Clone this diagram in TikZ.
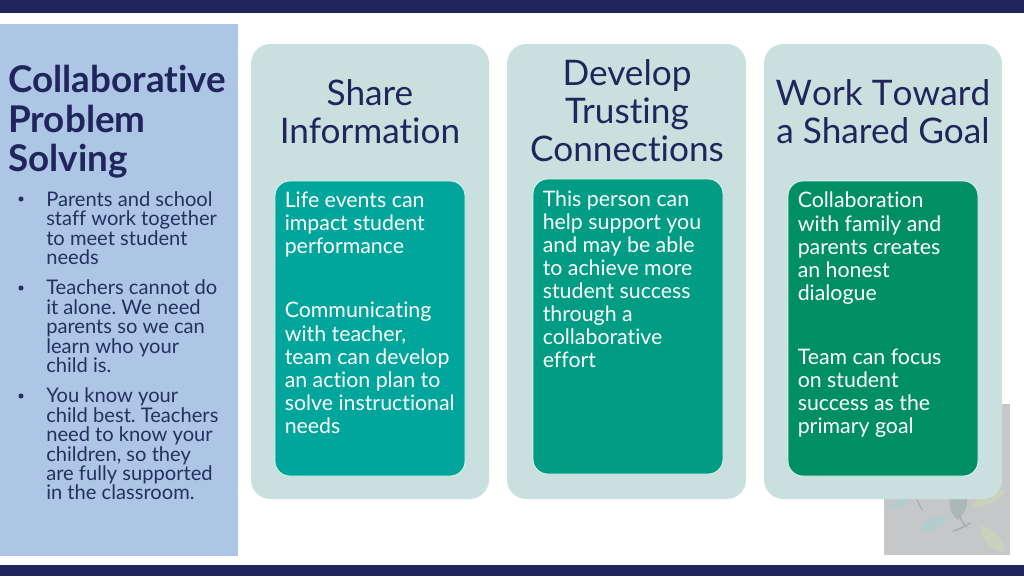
\documentclass[tikz,border=0pt]{standalone}
\usepackage{fontspec}
\setmainfont{Lato}[RawFeature={-liga;-clig;-dlig}]
\definecolor{navy}{HTML}{20265C}
\definecolor{sidebar}{HTML}{ADC6E5}
\definecolor{panelc}{HTML}{C9E0DF}
\definecolor{cardA}{HTML}{00A59B}
\definecolor{cardB}{HTML}{009C84}
\definecolor{cardC}{HTML}{008F63}
\definecolor{edgec}{HTML}{DDF3EF}
\definecolor{bodyt}{HTML}{24305E}
\definecolor{photo}{HTML}{C6C7C9}
\definecolor{leafblue}{HTML}{B2CDCB}
\definecolor{leafgreen}{HTML}{C8D2BC}
\definecolor{stemc}{HTML}{ACAEB0}
\tikzset{
  x=0.75pt,y=-0.75pt,
  panel/.style={fill=panelc,rounded corners=14.6pt,draw=none},
  card/.style={rounded corners=11.2pt,draw=edgec,line width=0.6pt},
  head/.style={anchor=center,align=center,text=navy,font=\fontsize{26.4}{28.6}\selectfont,inner sep=0pt},
  cardtext/.style={anchor=north west,align=left,text=white,font=\fontsize{16}{17.3}\selectfont,inner sep=0pt},
  sidehead/.style={anchor=north west,align=left,text=navy,font=\fontsize{27.6}{29.6}\bfseries\selectfont,inner sep=0pt},
  sidetext/.style={anchor=north west,align=left,text=bodyt,font=\fontsize{15.1}{14.6}\selectfont,inner sep=0pt},
  bulletdot/.style={circle,fill=bodyt,inner sep=0pt,minimum size=3.8pt},
}
\frenchspacing
\begin{document}
\begin{tikzpicture}
\useasboundingbox (0,0) rectangle (1024,576);
\fill[white] (0,0) rectangle (1024,576);
\fill[navy] (0,0) rectangle (1024,13);
\fill[navy] (0,564.5) rectangle (1024,576);
% picture behind third panel
\fill[photo] (884,404) rectangle (1010,555);
\fill[leafblue] (888,508) .. controls (895,500) and (905,498) .. (910,500) .. controls (906,507) and (896,509) .. (888,508) -- cycle;
\fill[leafblue] (920,530) .. controls (922,520) and (935,514) .. (947,517) .. controls (945,526) and (932,535) .. (920,530) -- cycle;
\fill[leafgreen] (980,526) .. controls (992,526) and (1005,540) .. (1005,552) .. controls (992,552) and (980,540) .. (980,526) -- cycle;
\fill[leafgreen] (972,507) .. controls (985,508) and (1003,500) .. (1005,490) .. controls (990,490) and (975,497) .. (972,507) -- cycle;
\fill[stemc!70!leafblue] (950,499) .. controls (948,508) and (953,517) .. (958,520) .. controls (965,512) and (968,505) .. (967,499) -- cycle;
\draw[stemc,line width=1pt,line cap=round] (917,500) -- (922,510);
\draw[stemc,line width=1.2pt,line cap=round] (953,531) .. controls (960,529) and (966,526) .. (970,523);
\draw[stemc,line width=1.2pt,line cap=round] (958,514) .. controls (962,520) and (964,526) .. (966,527);
% sidebar
\fill[sidebar] (0,24) rectangle (238,556);
\node[sidehead] (title) at (8,65) {Collaborative\\Problem\\Solving};
\node[bulletdot] (b1) at (21,199) {};
\node[sidetext] (t1) at (46,191) {Parents and school\\staff work together\\to meet student\\needs};
\node[bulletdot] (b2) at (21,288) {};
\node[sidetext] (t2) at (46,279.5) {Teachers cannot do\\it alone. We need\\parents so we can\\learn who your\\child is.};
\node[bulletdot] (b3) at (21,396) {};
\node[sidetext] (t3) at (46,387.5) {You know your\\child best. Teachers\\need to know your\\children, so they\\are fully supported\\in the classroom.};
% panels
\fill[panel] (251,44) rectangle (489,499);
\fill[panel] (507,44) rectangle (746,499);
\fill[panel] (764,44) rectangle (1002,499);
\node[head] (h1) at (370,111.5) {Share\\Information};
\node[head] (h2) at (627,111) {Develop\\Trusting\\Connections};
\node[head] (h3) at (883,111.5) {{\addfontfeature{Kerning=Off}Work Toward}\\a Shared Goal};
% cards
\draw[card,fill=cardA] (275,181) rectangle (465,476);
\draw[card,fill=cardB] (533,179) rectangle (723,474);
\draw[card,fill=cardC] (788,181) rectangle (978,476);
\node[cardtext] (c1) at (284.5,192) {Life events can\\impact student\\performance\\[30.7pt]Communicating\\with teacher,\\team can develop\\an action plan to\\solve instructional\\needs};
\node[cardtext] (c2) at (542.5,190.5) {This person can\\help support you\\and may be able\\to achieve more\\student success\\through a\\collaborative\\effort};
\node[cardtext] (c3) at (797.5,192) {Collaboration\\with family and\\parents creates\\an honest\\dialogue\\[30.7pt]Team can focus\\on student\\success as the\\primary goal};
\end{tikzpicture}
\end{document}
